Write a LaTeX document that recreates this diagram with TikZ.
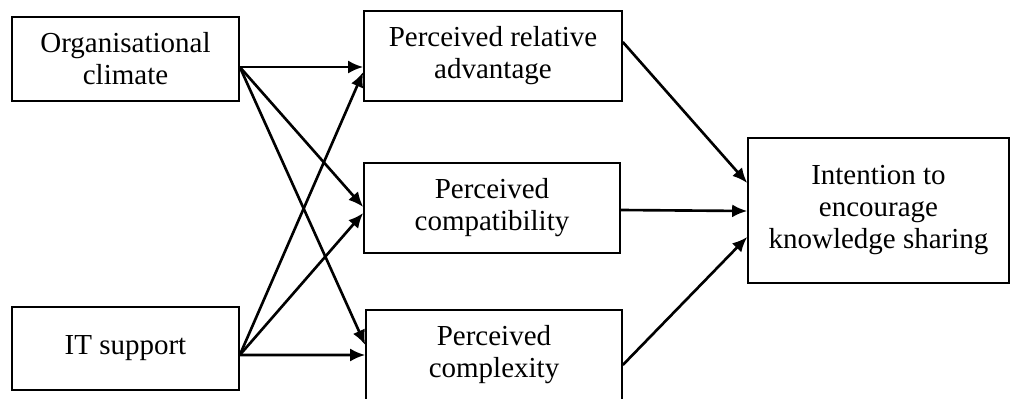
\documentclass[tikz,border=0pt]{standalone}
\usepackage{fontspec}
\setmainfont{Liberation Serif}
\usetikzlibrary{arrows.meta}

\begin{document}
\begin{tikzpicture}[> = {Latex[length = 3mm, width = 2.6mm]},
	box/.style = {draw, line width = 0.9pt, align = center, inner sep = 0pt,
		font = \fontsize{16.5}{18.2}\selectfont},
	link/.style = {->, line width = 1.5pt}]

	\useasboundingbox (0, 0) rectangle (20.22, -7.96);

	% Antecedents
	
	\node [box, minimum width = 4.54 cm, minimum height = 1.68 cm] (climate) at (2.51, -1.18) {Organisational\\climate};
	\node [box, minimum width = 4.54 cm, minimum height = 1.66 cm] (support) at (2.51, -6.97) {IT support};
	
	% Perceived characteristics
	
	\node [box, minimum width = 5.16 cm, minimum height = 1.8 cm] (advantage) at (9.86, -1.12) {Perceived relative\\advantage};
	\node [box, minimum width = 5.12 cm, minimum height = 1.8 cm] (compat) at (9.84, -4.16) {Perceived\\compatibility};
	\node [box, minimum width = 5.12 cm, minimum height = 1.8 cm] (complex) at (9.88, -7.1) {Perceived\\complexity};
	
	% Outcome
	
	\node [box, minimum width = 5.22 cm, minimum height = 2.9 cm] (intention) at (17.57, -4.21) {Intention to\\encourage\\knowledge sharing};
	
	% Links from the antecedents
	
	\draw [link] ([yshift = -0.16 cm] climate.east) -- ([yshift = -0.22 cm] advantage.west);
	\draw [link] ([yshift = -0.16 cm] climate.east) -- ([yshift = 0.02 cm] compat.west);
	\draw [link] ([yshift = -0.16 cm] climate.east) -- ([yshift = 0.2 cm] complex.west);
	\draw [link] ([yshift = -0.13 cm] support.east) -- ([yshift = -0.32 cm] advantage.west);
	\draw [link] ([yshift = -0.13 cm] support.east) -- ([yshift = -0.1 cm] compat.west);
	\draw [link] ([yshift = -0.13 cm] support.east) -- (complex.west);
	
	% Links to the outcome
	
	\draw [link] ([yshift = 0.28 cm] advantage.east) -- ([yshift = 0.55 cm] intention.west);
	\draw [link] ([yshift = -0.04 cm] compat.east) -- ([yshift = -0.01 cm] intention.west);
	\draw [link] ([yshift = -0.2 cm] complex.east) -- ([yshift = -0.53 cm] intention.west);
	
\end{tikzpicture}
\end{document}
